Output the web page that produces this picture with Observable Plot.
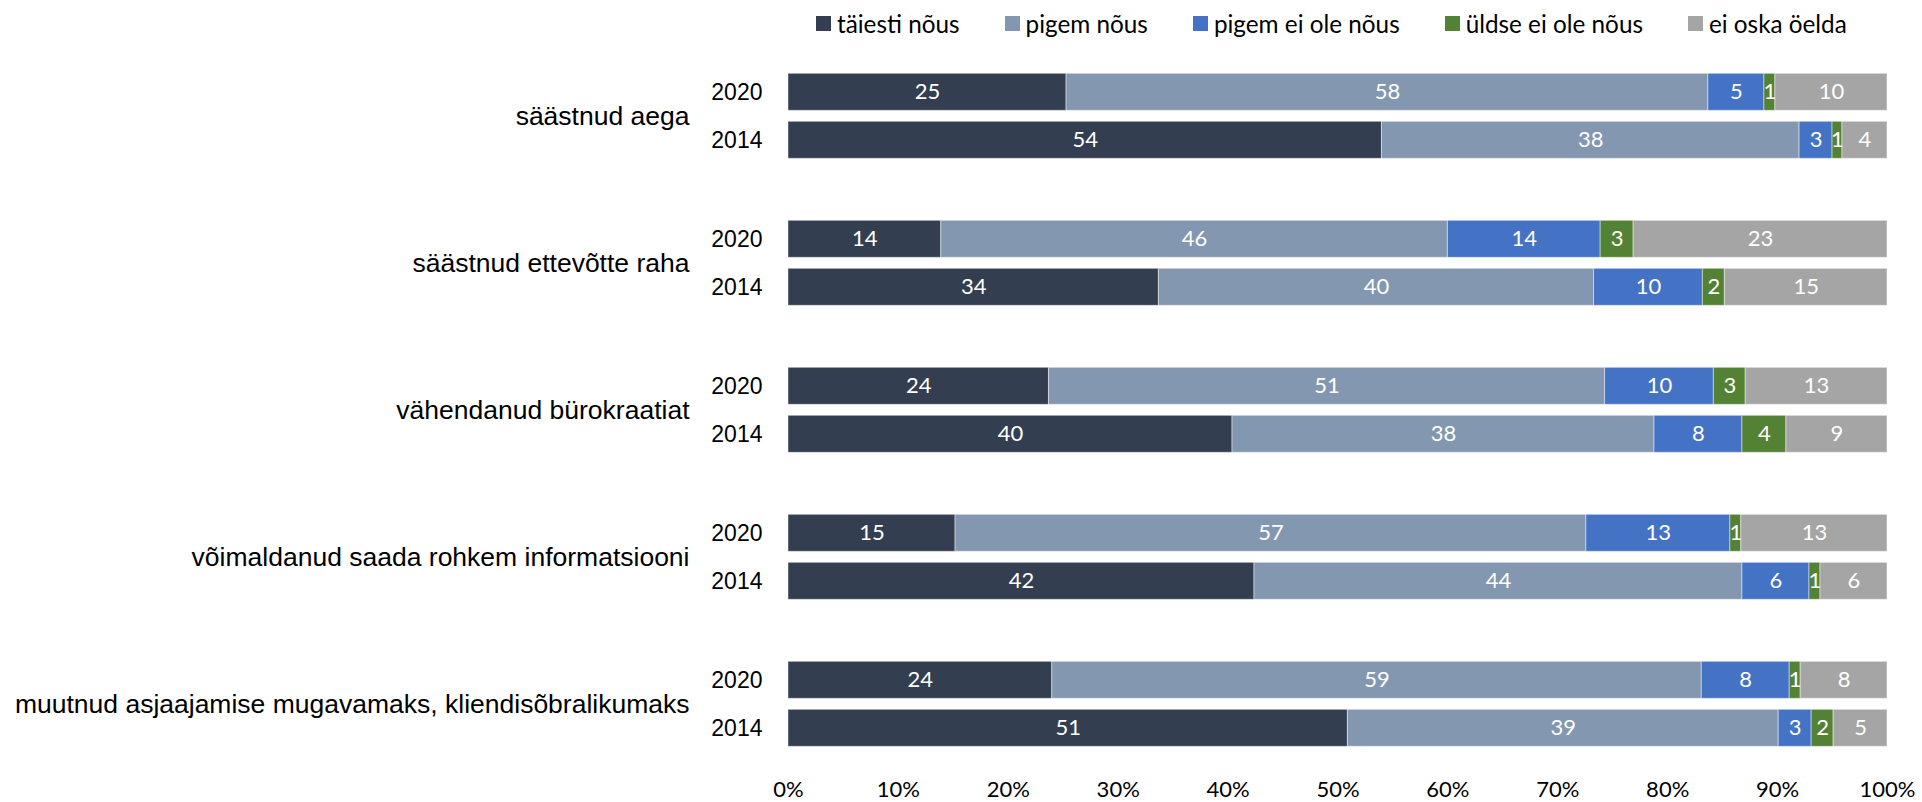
<!DOCTYPE html>
<html>
<head>
<meta charset="utf-8">
<script src="https://cdn.jsdelivr.net/npm/d3@7"></script>
<script src="https://cdn.jsdelivr.net/npm/@observablehq/plot@0.6"></script>
<style>
  html, body { margin: 0; padding: 0; background: #fff; }
  #legend { height: 50px; padding-left: 816px; padding-bottom: 4px; display: flex; align-items: center; box-sizing: border-box; }
  .lg-swatch { margin-right: 45px !important; }
  .lg-swatch > svg { margin-right: 6px !important; }
</style>
</head>
<body>
<div id="legend"></div>
<div id="chart"></div>
<script>
const categories = [
  "säästnud aega",
  "säästnud ettevõtte raha",
  "vähendanud bürokraatiat",
  "võimaldanud saada rohkem informatsiooni",
  "muutnud asjaajamise mugavamaks, kliendisõbralikumaks"
];
const years = ["2020", "2014"];
const responses = ["täiesti nõus", "pigem nõus", "pigem ei ole nõus", "üldse ei ole nõus", "ei oska öelda"];
const colors = ["#333F50", "#8497B0", "#4472C4", "#548235", "#A5A5A5"];

// values in order: [cat0 2020, cat0 2014, cat1 2020, cat1 2014, ...]
const taiestiNous   = [25.3, 54.0, 13.9, 33.7, 23.7, 40.4, 15.2, 42.4, 24.0, 50.9];
const pigemNous     = [58.4, 38.0, 46.1, 39.6, 50.6, 38.4, 57.4, 44.4, 59.1, 39.2];
const pigemEiNous   = [5.1, 3.0, 13.9, 9.9, 9.9, 8.0, 13.1, 6.1, 8.0, 3.0];
const uldseEiNous   = [1.0, 0.9, 3.0, 2.0, 2.9, 4.0, 1.0, 1.0, 1.0, 2.0];
const eiOskaOelda   = [10.2, 4.1, 23.1, 14.8, 12.9, 9.2, 13.3, 6.1, 7.9, 4.9];
const xTicks = [0, 10, 20, 30, 40, 50, 60, 70, 80, 90, 100];

const series = [taiestiNous, pigemNous, pigemEiNous, uldseEiNous, eiOskaOelda];
const data = [];
categories.forEach((c, ci) => {
  years.forEach((y, yi) => {
    const k = ci * years.length + yi;
    responses.forEach((r, ri) => {
      data.push({category: c, year: y, type: r, value: series[ri][k]});
    });
  });
});

const chart = Plot.plot({
  width: 1922,
  height: 752,
  marginLeft: 788,
  marginRight: 35,
  marginTop: 22.7,
  marginBottom: 54,
  style: {fontFamily: "Lato", fontSize: "22px", background: "white", color: "#000", overflow: "visible"},
  x: {domain: [0, 100]},
  y: {domain: years, paddingInner: 0.2347, paddingOuter: 0},
  fy: {domain: categories, paddingInner: 0.4124, paddingOuter: 0},
  color: {domain: responses, range: colors},
  marks: [
    Plot.barX(data, Plot.stackX({
      x: "value", y: "year", fy: "category", fill: "type",
      stroke: "white", strokeOpacity: 0.45, strokeWidth: 1
    })),
    Plot.text(data, Plot.stackX({
      x: "value", y: "year", fy: "category", z: "type",
      text: d => String(Math.round(d.value)),
      fill: "white", fontSize: 22, fontFamily: "Lato"
    })),
    Plot.axisX({
      anchor: "bottom", ticks: xTicks, tickFormat: d => d + "%",
      tickSize: 0, tickPadding: 34, label: null,
      fontSize: 22, fontFamily: "Lato", fill: "#000"
    }),
    Plot.axisY({
      anchor: "left", tickSize: 0, tickPadding: 26, label: null,
      fontSize: 23, fontFamily: "Liberation Sans", fill: "#000"
    }),
    Plot.axisFy({
      anchor: "left", tickSize: 0, tickPadding: 99, label: null,
      fontSize: 26.5, fontFamily: "Liberation Sans", fill: "#000"
    })
  ]
});

document.getElementById("chart").appendChild(chart);
const legend = chart.legend("color", {
  swatchSize: 15,
  className: "lg",
  style: {fontFamily: "Lato", fontSize: "24.3px", color: "#000", marginBottom: "0"}
});
document.getElementById("legend").appendChild(legend);
</script>
</body>
</html>
